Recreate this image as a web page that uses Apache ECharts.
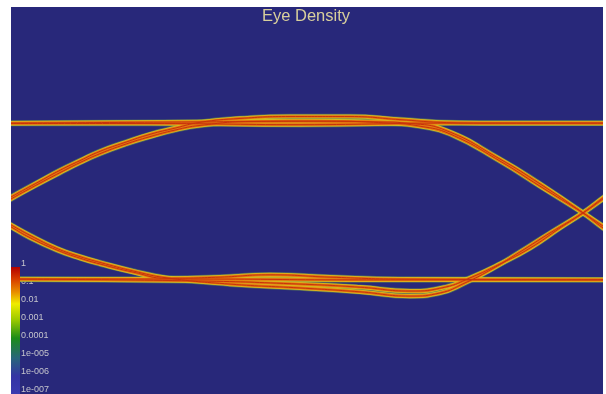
<!DOCTYPE html>
<html>
<head>
<meta charset="utf-8">
<title>Eye Density</title>
<script src="https://cdn.jsdelivr.net/npm/echarts@6/dist/echarts.min.js"></script>
<style>
  html, body { margin: 0; padding: 0; background: #ffffff; }
  #chart { width: 606px; height: 394px; }
</style>
</head>
<body>
<div id="chart"></div>
<script>
// Time in ps across the display window, voltage in mV.
// Each trajectory is one bit-pattern path through the eye (prev, current, next bit).
const t111 = [-10, 140, 290, 440, 600];
const v111 = [199, 199, 196, 200, 200];

const t011 = [-10, 0, 29, 49, 69, 89, 114, 139, 164, 189, 229, 279, 339, 389, 429, 469, 600];
const v011 = [-6, 9, 50, 78, 103, 127, 150, 171, 187, 202, 212, 217, 217, 209, 202, 200, 200];

const t010 = [-10, 0, 29, 49, 69, 89, 114, 139, 164, 189, 239, 309, 379, 409, 439, 489, 529, 572, 592, 600];
const v010 = [-12, 4, 45, 72, 98, 121, 145, 165, 182, 194, 204, 205, 200, 192, 172, 102, 37, -32, -66, -79];

const t110 = [-10, 189, 289, 369, 399, 434, 489, 529, 572, 592, 600];
const v110 = [200, 203, 205, 203, 199, 182, 107, 43, -32, -71, -84];

const t000 = [-10, 189, 339, 439, 600];
const v000 = [-203, -203, -205, -205, -205];

const t100 = [-10, 0, 19, 46, 69, 89, 122, 156, 209, 259, 319, 389, 600];
const v100 = [-53, -68, -96, -128, -149, -164, -185, -201, -198, -192, -198, -203, -205];

const t101 = [-10, 0, 19, 46, 69, 89, 122, 156, 219, 289, 349, 399, 429, 454, 479, 509, 539, 572, 592, 600];
const v101 = [-48, -63, -90, -124, -145, -160, -182, -200, -216, -226, -236, -247, -239, -213, -180, -133, -84, -32, 4, 19];

const t001 = [-10, 189, 289, 349, 399, 434, 459, 489, 519, 549, 572, 592, 600];
const v001 = [-203, -208, -216, -224, -234, -224, -200, -164, -123, -71, -32, 7, 22];

// Colour bar tick labels (log10 of density, -7 .. 0)
const densityExponents = [-7, -6, -5, -4, -3, -2, -1, 0];
const densityLabels = ['1e-007', '1e-006', '1e-005', '0.0001', '0.001', '0.01', '0.1', '1'];

const paths = [
  [t111, v111], [t011, v011], [t010, v010], [t110, v110],
  [t000, v000], [t100, v100], [t101, v101], [t001, v001]
];

// Stroke layers, outermost first: faint green fringe, yellow, orange, red core
const strokeLayers = [
  { width: 5.6, color: 'rgba(110,150,80,0.55)' },
  { width: 4.2, color: '#dcc21e' },
  { width: 2.7, color: '#e27512' },
  { width: 1.0, color: '#c8320c' }
];

const series = [];
strokeLayers.forEach((layer, li) => {
  paths.forEach(([ts, vs]) => {
    series.push({
      type: 'line',
      xAxisIndex: 0,
      yAxisIndex: 0,
      data: ts.map((t, i) => [t, vs[i]]),
      showSymbol: false,
      smooth: 0.5,
      clip: true,
      silent: true,
      z: 3 + li,
      lineStyle: { width: layer.width, color: layer.color, cap: 'round', join: 'round' }
    });
  });
});

const chart = echarts.init(document.getElementById('chart'), null, { renderer: 'canvas' });
chart.setOption({
  animation: false,
  backgroundColor: '#ffffff',
  title: {
    text: 'Eye Density',
    left: 262,
    top: 8,
    padding: 0,
    z: 200,
    textStyle: { color: '#d8cf9c', fontSize: 16.5, fontWeight: 'normal', fontFamily: 'Liberation Sans' }
  },
  grid: [
    { left: 11, top: 7, right: 3, bottom: 0, show: true, backgroundColor: '#28287a', borderWidth: 0 },
    { left: 20, top: 264, width: 1, height: 128 }
  ],
  xAxis: [
    { gridIndex: 0, type: 'value', min: 0, max: 592, show: false },
    { gridIndex: 1, type: 'value', min: 0, max: 1, show: false }
  ],
  yAxis: [
    { gridIndex: 0, type: 'value', min: -500, max: 500, show: false },
    {
      gridIndex: 1, type: 'value',
      min: densityExponents[0], max: densityExponents[densityExponents.length - 1], interval: 1,
      axisLine: { show: false }, axisTick: { show: false }, splitLine: { show: false },
      axisLabel: {
        inside: true, margin: 1, showMinLabel: true, showMaxLabel: true,
        color: '#c4c4cc', fontSize: 9, fontFamily: 'Liberation Sans',
        formatter: v => densityLabels[densityExponents.indexOf(Math.round(v))]
      },
      z: 1
    }
  ],
  graphic: [
    {
      // density colour scale
      type: 'rect',
      z: 100,
      shape: { x: 11, y: 267, width: 9, height: 127 },
      style: {
        fill: new echarts.graphic.LinearGradient(0, 0, 0, 1, [
          { offset: 0.0,  color: '#b40000' },
          { offset: 0.1,  color: '#d84000' },
          { offset: 0.2,  color: '#e89000' },
          { offset: 0.29, color: '#f0ec00' },
          { offset: 0.42, color: '#98c800' },
          { offset: 0.56, color: '#1c8c18' },
          { offset: 0.72, color: '#28647c' },
          { offset: 0.86, color: '#3434a4' },
          { offset: 1.0,  color: '#3a3ab0' }
        ])
      }
    },
    // white page margins around the plot frame
    { type: 'rect', z: 150, shape: { x: 0, y: 0, width: 11, height: 394 }, style: { fill: '#ffffff' } },
    { type: 'rect', z: 150, shape: { x: 0, y: 0, width: 606, height: 7 }, style: { fill: '#ffffff' } },
    { type: 'rect', z: 150, shape: { x: 603, y: 0, width: 3, height: 394 }, style: { fill: '#ffffff' } }
  ],
  series: series
});
</script>
</body>
</html>
